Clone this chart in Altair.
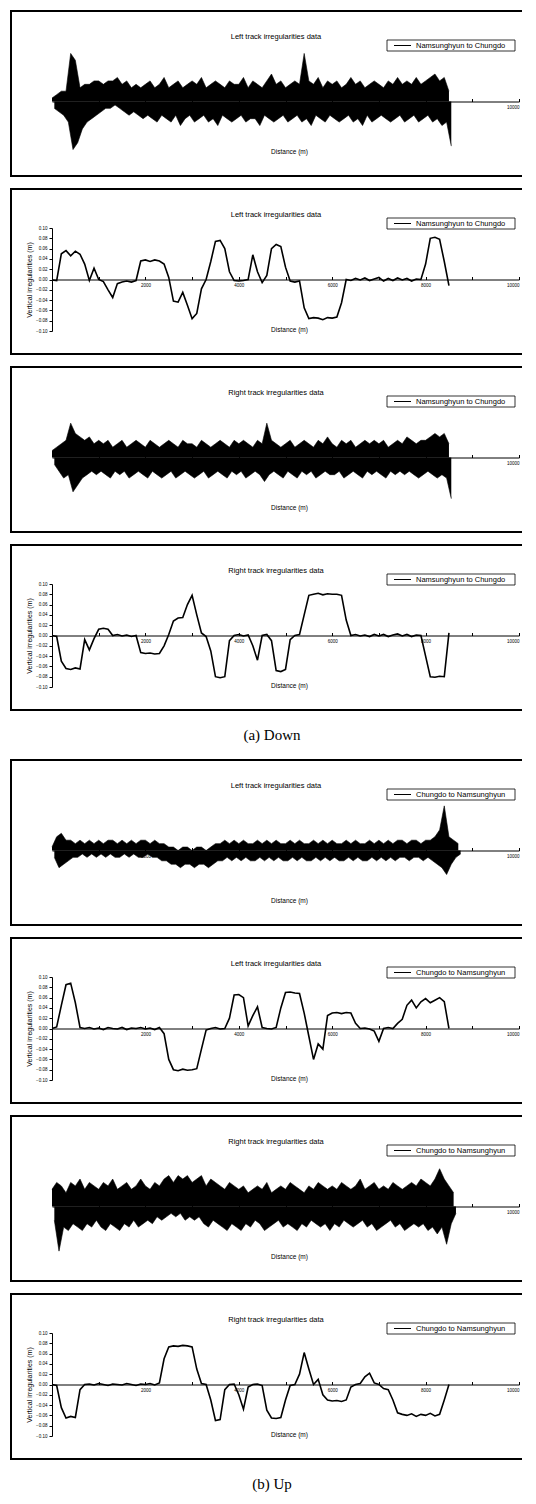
import altair as alt
import pandas as pd

STEP_M = 100  # spacing of the typed samples along the track (m)

# ---------- lateral irregularities: upper / lower peaks (mm), one pair per 100 m ----------
down_left_lat_hi = [1,2,3,3,14,12,4,5,5,6, 6,5,6,6,7,5,6,4,5,4, 5,6,4,5,7,4,5,6,4,5,
                    6,5,7,4,5,6,5,4,6,5, 5,7,4,6,5,4,6,8,5,6, 4,5,6,5,14,6,5,7,4,6,
                    5,6,4,5,7,5,6,4,5,6, 5,4,6,5,7,5,6,5,7,5, 6,7,8,6,7,3]
down_left_lat_lo = [-2,-3,-4,-6,-14,-12,-8,-6,-5,-4, -3,-2,-2,-1,-2,-3,-4,-3,-4,-5,
                    -4,-5,-6,-4,-5,-6,-4,-7,-5,-4, -6,-5,-4,-6,-5,-7,-4,-5,-6,-5,
                    -4,-6,-5,-5,-7,-4,-5,-6,-5,-4, -6,-5,-4,-6,-5,-7,-4,-5,-6,-4,
                    -5,-6,-5,-4,-6,-5,-7,-4,-6,-5, -4,-5,-6,-5,-4,-6,-5,-4,-6,-5,
                    -4,-6,-5,-7,-6,-13]

down_right_lat_hi = [2,3,4,5,10,7,6,5,6,4, 5,4,5,3,4,5,3,4,5,4, 3,5,4,3,4,5,4,3,5,4,
                     4,3,5,4,3,4,5,4,3,5, 4,5,4,3,5,4,10,5,4,3, 4,5,3,4,5,4,3,5,4,6,
                     4,3,5,4,5,3,4,5,4,5, 4,5,3,4,5,4,6,5,4,5, 5,6,7,6,7,4]
down_right_lat_lo = [-2,-4,-6,-5,-10,-8,-6,-5,-4,-5, -4,-5,-6,-4,-5,-4,-6,-5,-4,-5,
                     -6,-4,-5,-6,-5,-4,-6,-5,-4,-5, -6,-5,-4,-6,-5,-4,-5,-6,-4,-5,
                     -4,-6,-5,-4,-5,-7,-5,-4,-5,-6, -4,-5,-6,-4,-5,-4,-6,-5,-4,-5,
                     -5,-4,-6,-5,-4,-5,-6,-4,-5,-4, -5,-6,-4,-5,-4,-5,-4,-5,-6,-5,
                     -4,-5,-6,-5,-6,-12]

up_left_lat_hi = [1,4,5,3,3,2,3,2,3,2, 3,2,3,3,2,3,2,3,2,3, 3,2,3,2,2,1,1,0,1,1,
                  0,1,1,0,1,2,2,3,2,3, 2,3,2,2,3,2,3,2,3,2, 2,3,2,3,2,2,3,2,3,2,
                  3,2,2,3,2,3,2,2,3,2, 3,2,3,2,3,3,2,3,3,2, 3,3,4,6,13,4,3,2]
up_left_lat_lo = [-2,-5,-4,-3,-2,-2,-1,-2,-1,-2, -1,-2,-1,-2,-2,-1,-2,-1,-2,-2,
                  -1,-2,-2,-3,-3,-4,-4,-5,-4,-4, -5,-4,-4,-5,-4,-3,-3,-2,-3,-2,
                  -3,-2,-3,-3,-2,-3,-2,-3,-2,-3, -3,-2,-3,-2,-3,-3,-2,-3,-2,-3,
                  -2,-3,-3,-2,-3,-2,-3,-3,-2,-3, -2,-3,-2,-3,-2,-2,-3,-2,-2,-3,
                  -2,-3,-4,-5,-7,-4,-2,-1]

up_right_lat_hi = [5,7,6,4,7,6,8,5,7,6, 5,7,6,8,5,6,7,5,6,8, 6,5,7,6,8,9,7,9,8,9,
                   7,8,9,6,8,7,6,5,7,6, 5,6,4,5,6,5,7,4,5,6, 5,7,6,5,4,6,5,7,6,5,
                   6,5,7,6,5,6,8,5,6,7, 5,6,5,7,6,5,6,7,6,8, 7,6,8,11,8,6,4]
up_right_lat_lo = [-4,-13,-6,-7,-5,-6,-7,-5,-6,-4, -6,-7,-5,-6,-7,-5,-6,-4,-6,-5,
                   -4,-5,-3,-4,-3,-2,-3,-2,-4,-3, -4,-3,-5,-6,-4,-5,-6,-7,-5,-6,
                   -7,-5,-6,-4,-5,-7,-6,-5,-4,-6, -5,-6,-7,-5,-6,-4,-5,-6,-5,-7,
                   -5,-6,-4,-5,-6,-5,-4,-6,-5,-7, -6,-5,-4,-6,-5,-7,-6,-5,-6,-5,
                   -7,-6,-8,-6,-11,-5,-2]

# ---------- vertical irregularities (mm), one value per 100 m ----------
down_left_vert = [-1,-2,50,56,46,55,49,30,-2,22, 0,-4,-20,-35,-8,-5,-3,-5,-2,36,
                  38,35,38,36,30,4,-42,-44,-25,-50, -76,-66,-18,0,35,74,76,60,15,-2,
                  -3,-2,0,48,15,-6,8,60,68,64, 24,-3,-5,-3,-55,-76,-74,-75,-78,-74,
                  -75,-73,-45,0,-2,2,-1,3,-2,1, 4,-3,2,-2,3,-1,2,-3,1,0,
                  30,80,82,78,35,-12]
down_right_vert = [0,-2,-50,-64,-66,-63,-65,-8,-28,-6, 12,14,12,0,2,-1,1,-2,0,-33,
                   -35,-34,-36,-35,-20,2,28,34,35,60, 78,40,5,-2,-30,-80,-82,-80,-10,0,
                   2,-1,1,-20,-48,0,2,-10,-68,-70, -66,-8,0,2,40,78,80,82,79,81,
                   80,80,78,30,0,2,-1,1,-2,2, -1,2,-2,1,3,-1,2,-2,1,0,
                   -40,-80,-81,-79,-80,5]
up_left_vert = [0,3,45,85,88,50,2,0,2,-1, 1,-2,2,0,-1,2,-2,1,0,2,
                -1,1,-2,2,-10,-60,-80,-82,-79,-81, -80,-78,-40,-3,0,2,-1,0,20,65,
                66,60,5,25,42,2,0,-1,2,40, 70,71,69,68,30,-15,-60,-30,-40,25,
                30,31,29,31,30,10,0,1,-1,-5, -25,0,2,0,10,18,45,55,40,52,
                58,50,55,60,52,0]
up_right_vert = [0,-2,-45,-65,-62,-64,-10,0,1,-1, 2,0,-2,1,0,-1,2,0,-2,1,
                 0,2,-1,3,50,73,75,74,76,75, 73,30,2,0,-30,-70,-68,-10,0,1,
                 -20,-48,-5,0,1,-2,-50,-65,-66,-64, -30,-2,0,20,62,30,0,10,-20,-30,
                 -32,-31,-33,-30,-5,0,2,15,22,3, 0,-8,-10,-30,-55,-58,-60,-57,-62,-58,
                 -60,-56,-61,-58,-30,0]

lat_ticks = [-0.015, -0.010, -0.005, 0.0, 0.005, 0.010, 0.015]
vert_ticks = [-0.10, -0.08, -0.06, -0.04, -0.02, 0.0, 0.02, 0.04, 0.06, 0.08, 0.10]
x_ticks = [1000, 2000, 3000, 4000, 5000, 6000, 7000, 8000, 9000, 10000]

title_left = "Left track irregularities data"
title_right = "Right track irregularities data"
leg_down = "Namsunghyun to Chungdo"
leg_up = "Chungdo to Namsunghyun"
lat_title = "Lateral irregularities (m)"
vert_title = "Vertical irregularities (m)"


def peaks(vals, shift):
    return pd.DataFrame({"d": [i * STEP_M + shift for i in range(len(vals))],
                         "v": [v / 1000 for v in vals]})


W, H = 512, 167
X0, X1 = 42, 509
YT, YB = 40, 143
ZERO = (YT + YB) / 2
FONT = "Liberation Sans"
one = pd.DataFrame({"k": [0]})


def axes_x():
    return alt.Axis(
        orient="bottom", offset=-(H - ZERO), values=x_ticks,
        labelExpr="datum.value % 2000 === 0 ? format(datum.value, 'd') : ''",
        ticks=False, labelPadding=3, labelFontSize=4.5,
        domainColor="black", domainWidth=1,
        title="Distance (m)", titleX=279, titleY=50, titleFontSize=6.5,
        titleFontWeight="normal", titleBaseline="middle", titleAlign="center")


def axes_y(ticks, fmt, ytitle):
    return alt.Axis(
        orient="left", offset=-X0, values=ticks, format=fmt,
        tickSize=3, tickColor="black", labelPadding=2, labelFontSize=4.5,
        domainColor="black", domainWidth=1,
        title=ytitle, titleX=-23, titleY=ZERO, titleAngle=270,
        titleFontSize=7, titleFontWeight="normal",
        titleBaseline="middle", titleAlign="center")


def decorations(title, leg):
    frame_top = alt.Chart(one).mark_rule(color="black", strokeWidth=2).encode(
        x=alt.value(0), x2=alt.value(W), y=alt.value(1))
    frame_bot = alt.Chart(one).mark_rule(color="black", strokeWidth=2).encode(
        x=alt.value(0), x2=alt.value(W), y=alt.value(H - 1))
    frame_left = alt.Chart(one).mark_rule(color="black", strokeWidth=2).encode(
        x=alt.value(1), y=alt.value(0), y2=alt.value(H))
    ttl = alt.Chart(one).mark_text(font=FONT, fontSize=7.5, align="center",
                                   baseline="middle", color="black").encode(
        x=alt.value(266), y=alt.value(27), text=alt.value(title))
    leg_box = alt.Chart(one).mark_rect(fill="white", stroke="black",
                                       strokeWidth=0.8).encode(
        x=alt.value(377), x2=alt.value(505), y=alt.value(30), y2=alt.value(41))
    leg_line = alt.Chart(one).mark_rule(color="black", strokeWidth=1).encode(
        x=alt.value(384), x2=alt.value(401), y=alt.value(35.5))
    leg_text = alt.Chart(one).mark_text(font=FONT, fontSize=7.5, align="left",
                                        baseline="middle", color="black").encode(
        x=alt.value(406), y=alt.value(35.5), text=alt.value(leg))
    return [frame_top, frame_bot, frame_left, ttl, leg_box, leg_line, leg_text]


def tick_layer(df, xs):
    return alt.Chart(df).mark_point(opacity=0).encode(
        x=alt.X("d:Q", scale=xs, axis=alt.Axis(
            orient="top", offset=-ZERO, values=x_ticks, labels=False,
            domain=False, tickSize=3, tickColor="black", title=None)),
        y=alt.value(ZERO),
    )


def lateral_panel(hi, lo, title, leg):
    xs = alt.Scale(domain=[0, 10000], range=[X0, X1], nice=False, zero=False)
    ys = alt.Scale(domain=[-0.015, 0.015], range=[YB, YT], nice=False, zero=False)
    up = peaks(hi, 0)
    dn = peaks(lo, STEP_M / 2)
    upper = alt.Chart(up).mark_area(color="black", opacity=1,
                                    line={"color": "black", "strokeWidth": 0.6}).encode(
        x=alt.X("d:Q", scale=xs, axis=axes_x()),
        y=alt.Y("v:Q", scale=ys, axis=axes_y(lat_ticks, ".3f", lat_title)),
        y2=alt.datum(0),
    )
    lower = alt.Chart(dn).mark_area(color="black", opacity=1,
                                    line={"color": "black", "strokeWidth": 0.6}).encode(
        x=alt.X("d:Q", scale=xs, axis=None),
        y=alt.Y("v:Q", scale=ys, axis=None),
        y2=alt.datum(0),
    )
    return alt.layer(upper, lower, tick_layer(up, xs), *decorations(title, leg)).resolve_axis(
        x="independent").properties(width=W, height=H)


def vertical_panel(vals, title, leg):
    xs = alt.Scale(domain=[0, 10000], range=[X0, X1], nice=False, zero=False)
    ys = alt.Scale(domain=[-0.10, 0.10], range=[YB, YT], nice=False, zero=False)
    df = peaks(vals, 0)
    line = alt.Chart(df).mark_line(color="black", strokeWidth=1.6).encode(
        x=alt.X("d:Q", scale=xs, axis=axes_x()),
        y=alt.Y("v:Q", scale=ys, axis=axes_y(vert_ticks, ".2f", vert_title)),
    )
    return alt.layer(line, tick_layer(df, xs), *decorations(title, leg)).resolve_axis(
        x="independent").properties(width=W, height=H)


def caption(txt, h):
    return alt.Chart(one).mark_text(font="Liberation Serif", fontSize=15,
                                    align="center", baseline="middle",
                                    color="black").encode(
        x=alt.value(262), y=alt.value(h / 2), text=alt.value(txt)
    ).properties(width=W, height=h)


panels = [
    lateral_panel(down_left_lat_hi, down_left_lat_lo, title_left, leg_down),
    vertical_panel(down_left_vert, title_left, leg_down),
    lateral_panel(down_right_lat_hi, down_right_lat_lo, title_right, leg_down),
    vertical_panel(down_right_vert, title_right, leg_down),
    caption("(a) Down", 26),
    lateral_panel(up_left_lat_hi, up_left_lat_lo, title_left, leg_up),
    vertical_panel(up_left_vert, title_left, leg_up),
    lateral_panel(up_right_lat_hi, up_right_lat_lo, title_right, leg_up),
    vertical_panel(up_right_vert, title_right, leg_up),
    caption("(b)  Up", 26),
]

chart = (
    alt.vconcat(*panels, spacing=11, padding=0, bounds="flush")
    .configure(font=FONT, background="white")
    .configure_view(stroke="transparent")
    .configure_axis(labelColor="black", titleColor="black",
                    labelFont=FONT, titleFont=FONT, grid=False)
)

chart.save("out.html", embed_options={"renderer": "svg", "actions": False})
